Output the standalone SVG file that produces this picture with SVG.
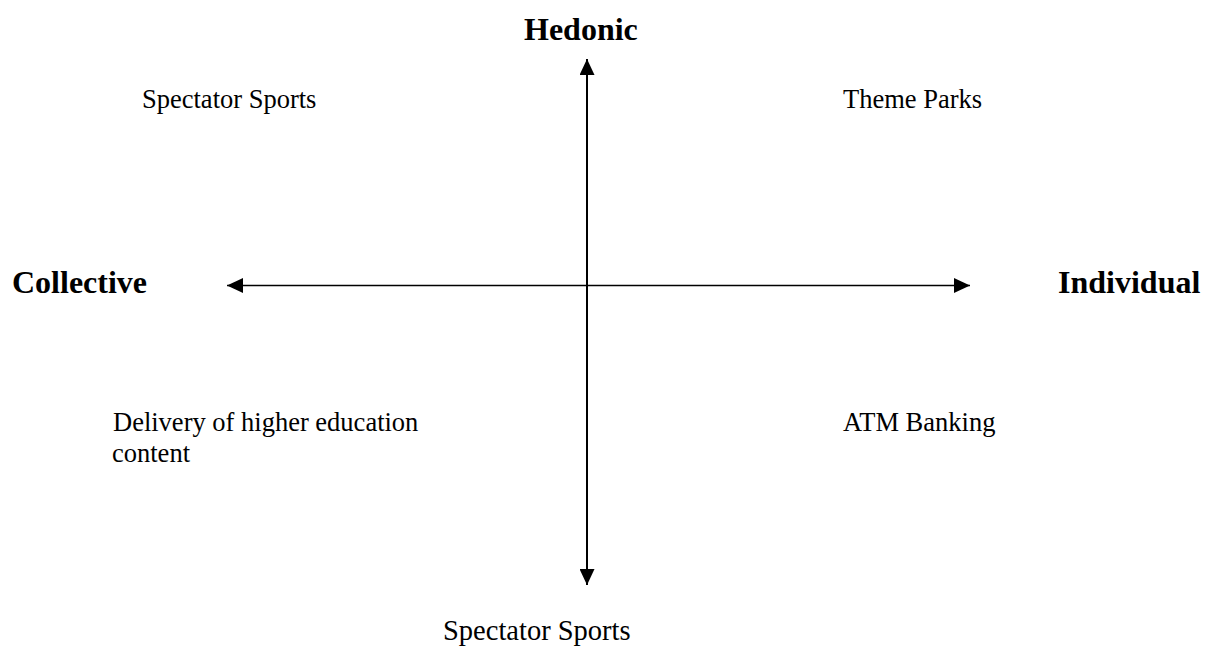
<svg xmlns="http://www.w3.org/2000/svg" width="1211" height="649" viewBox="0 0 1211 649">
<style>
.ax{font-family:"Liberation Serif","Times New Roman",serif;font-weight:bold;font-size:32px;fill:#000}
.lb{font-family:"Liberation Serif","Times New Roman",serif;font-size:26.5px;fill:#000}
.bt{font-family:"Liberation Serif","Times New Roman",serif;font-size:28.5px;fill:#000}
.ln{stroke:#000;fill:none}
</style>
<defs>
<marker id="ah" viewBox="0 0 16 15" refX="16" refY="7.5" markerWidth="16" markerHeight="15" markerUnits="userSpaceOnUse" orient="auto-start-reverse">
<path d="M0,0 L16,7.5 L0,15 Z" fill="#000"/>
</marker>
</defs>
<rect width="1211" height="649" fill="#fff"/>
<g id="connectors">
<line class="ln" x1="587" y1="59" x2="587" y2="585" stroke-width="2" marker-start="url(#ah)" marker-end="url(#ah)"/>
<line class="ln" x1="227" y1="285.5" x2="970" y2="285.5" stroke-width="1.5" marker-start="url(#ah)" marker-end="url(#ah)"/>
</g>
<g id="hedonic"><text class="ax" x="524" y="40">Hedonic</text></g>
<g id="collective"><text class="ax" x="12" y="293">Collective</text></g>
<g id="individual"><text class="ax" x="1058" y="293">Individual</text></g>
<g id="bottom"><text class="bt" x="443" y="640">Spectator Sports</text></g>
<g id="spectator-sports"><text class="lb" x="142" y="108">Spectator Sports</text></g>
<g id="theme-parks"><text class="lb" x="843" y="108">Theme Parks</text></g>
<g id="delivery"><text class="lb" x="113" y="431">Delivery of higher education</text><text class="lb" x="112" y="462">content</text></g>
<g id="atm"><text class="lb" x="843" y="431">ATM Banking</text></g>
</svg>
